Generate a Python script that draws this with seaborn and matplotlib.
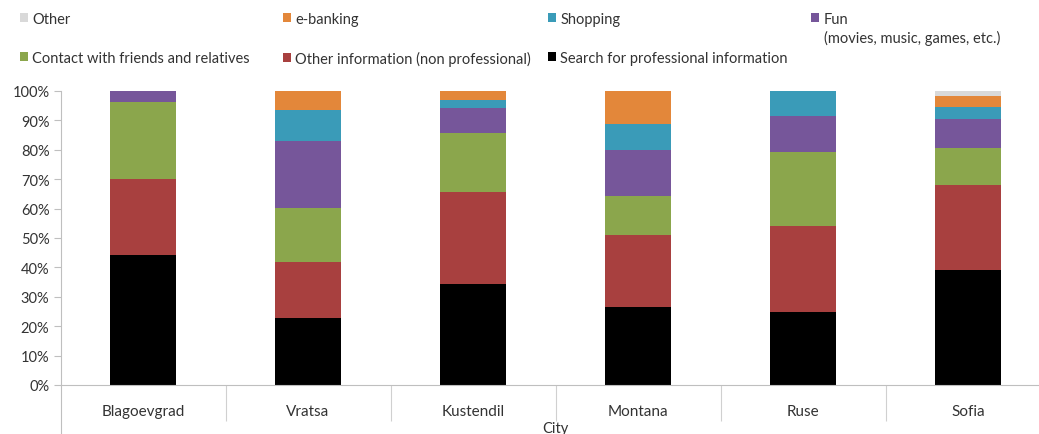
import numpy as np
import pandas as pd
import matplotlib
matplotlib.use("Agg")
import matplotlib.pyplot as plt
import seaborn as sns
from matplotlib.patches import Patch

cities = ["Blagoevgrad", "Vratsa", "Kustendil", "Montana", "Ruse", "Sofia"]
search_prof = [44.2, 22.9, 34.2, 26.6, 24.7, 39.2]
other_info = [25.9, 18.8, 31.3, 24.4, 29.3, 28.8]
contact = [26.3, 18.6, 20.1, 13.4, 25.1, 12.6]
fun = [3.6, 22.8, 8.6, 15.6, 12.5, 9.9]
shopping = [0.0, 10.4, 2.9, 8.8, 8.4, 3.9]
ebanking = [0.0, 6.5, 2.9, 11.2, 0.0, 4.0]
other = [0.0, 0.0, 0.0, 0.0, 0.0, 1.6]

series_names = ["Search for professional information", "Other information (non professional)",
                "Contact with friends and relatives", "Fun\n(movies, music, games, etc.)",
                "Shopping", "e-banking", "Other"]
series_vals = [search_prof, other_info, contact, fun, shopping, ebanking, other]
colors = ["#000000", "#A8403F", "#8BA64C", "#76569A", "#3A9BB8", "#E3873A", "#D9D9D9"]
yticks = [0, 10, 20, 30, 40, 50, 60, 70, 80, 90, 100]

df = pd.DataFrame(dict(zip(series_names, series_vals)), index=cities)
cum = df.cumsum(axis=1)

sns.set_theme(style="white")
plt.rcParams['font.family'] = ['Lato', 'DejaVu Sans']
TXT = "#333333"
FS = 10.5

W, H = 1039, 435
fig = plt.figure(figsize=(W / 100, H / 100), dpi=100)
ax = fig.add_axes([60.5 / W, (H - 386) / H, 990 / W, 294 / H])

# draw cumulative bars from top series down so lower ones overlay
for name, col in reversed(list(zip(series_names, colors))):
    d = pd.DataFrame({"City": cities, "val": cum[name].values})
    sns.barplot(data=d, x="City", y="val", color=col, width=0.4,
                saturation=1, ax=ax, linewidth=0)

ax.set_ylim(0, 100)
ax.set_xlim(-0.5, len(cities) - 0.5)
ax.set_yticks(yticks)
ax.set_yticklabels([f"{t}%" for t in yticks])
ax.set_ylabel("")
ax.set_xlabel("City", fontsize=FS, color=TXT)
ax.xaxis.set_label_coords(0.5, -0.122)

for s in ["top", "right"]:
    ax.spines[s].set_visible(False)
for s in ["left", "bottom"]:
    ax.spines[s].set_color("#BFBFBF")
    ax.spines[s].set_linewidth(0.8)
ax.spines["left"].set_bounds(-17, 100)

ax.tick_params(axis="y", which="major", left=True, length=5, width=0.8, color="#BFBFBF",
               labelsize=FS, labelcolor=TXT, pad=3)
ax.tick_params(axis="x", which="major", bottom=False, labelsize=11, labelcolor=TXT, pad=8)
ax.set_xticks(np.arange(0.5, len(cities) - 0.5, 1.0), minor=True)
ax.tick_params(axis="x", which="minor", bottom=True, length=26, width=0.8, color="#D0D0D0")

# legend entries placed individually like the reference
legend_pos = {
    "Other": (20, 20),
    "e-banking": (283, 20),
    "Shopping": (548, 20),
    "Fun\n(movies, music, games, etc.)": (811, 20),
    "Contact with friends and relatives": (20, 59),
    "Other information (non professional)": (283, 59),
    "Search for professional information": (548, 59),
}
for name, col in zip(series_names, colors):
    px, py = legend_pos[name]
    label = name.split("\n")[0]
    fig.legend(handles=[Patch(facecolor=col, edgecolor="none")], labels=[label],
               loc="center left", bbox_to_anchor=(px / W, 1 - py / H),
               frameon=False, handlelength=0.55, handleheight=0.55, handletextpad=0.3,
               borderpad=0, borderaxespad=0, prop={"size": FS}, labelcolor=TXT)
    if "\n" in name:
        fig.text((px + 13) / W, 1 - 38 / H, name.split("\n")[1], fontsize=FS,
                 color=TXT, va="center", ha="left")

fig.savefig("out.png", dpi=100)
